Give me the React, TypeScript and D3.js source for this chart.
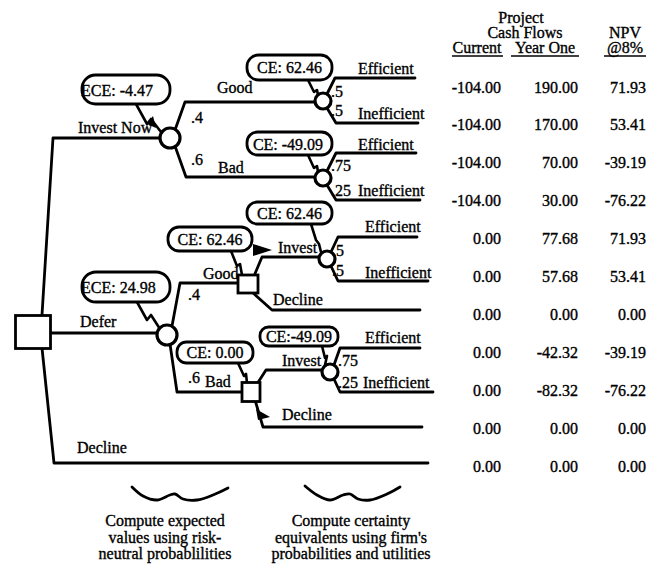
import React from "react";
import * as d3 from "d3";

// ---------- data ----------
const currentCF = [-104, -104, -104, -104, 0, 0, 0, 0, 0, 0, 0];
const yearOneCF = [190, 170, 70, 30, 77.68, 57.68, 0, -42.32, -82.32, 0, 0];
const npvValues = [71.93, 53.41, -39.19, -76.22, 71.93, 53.41, 0, -39.19, -76.22, 0, 0];
const ceValues = ["ECE: -4.47", "CE: 62.46", "CE: -49.09", "ECE: 24.98", "CE: 62.46", "CE: 62.46", "CE: 0.00", "CE:-49.09"];
const actionLabels = ["Invest Now", "Defer", "Decline", "Invest", "Decline", "Invest", "Decline"];
const stateLabels = ["Good", "Bad", "Good", "Bad"];
const stateProbs = [".4", ".6", ".4", ".6"];
const outcomeLabels = ["Efficient", "Inefficient"];
const outcomeProbs = [[".5", ".5"], [".75", ".25"], [".5", ".5"], [".75", ".25"]];
const notesLeft = ["Compute expected", "values using risk-", "neutral probablilities"];
const notesRight = ["Compute certainty", "equivalents using firm's", "probabilities and utilities"];

const FONT = '"Liberation Serif", "Times New Roman", Tinos, Times, "DejaVu Serif", serif';
const W = 665, H = 565;
const SW = 2.8;

const fmt = d3.formatLocale({ decimal: ".", thousands: ",", grouping: [3], currency: ["$", ""], minus: "-" }).format(".2f");
const rowY = d3.scaleLinear().domain([0, 10]).range([87, 466]);
const line = d3.line();
const smooth = d3.line().curve(d3.curveCatmullRom);

type P = [number, number];

// ---------- layout ----------
const branches: P[][] = [
  [[42, 315], [53, 138], [162, 138]],
  [[51, 333], [158, 333]],
  [[42, 348], [54, 463], [428, 463]],
  [[175, 130], [185, 102], [316, 102]],
  [[175, 146], [186, 177], [316, 177]],
  [[327, 94], [335, 78], [415, 78]],
  [[327, 108], [336, 123], [418, 123]],
  [[327, 171], [336, 153], [416, 153]],
  [[327, 185], [336, 200], [420, 200]],
  [[172, 326], [180, 283], [240, 283]],
  [[170, 344], [177, 392], [243, 392]],
  [[254, 276], [262, 257], [320, 257]],
  [[252, 292], [272, 310], [420, 310]],
  [[331, 252], [338, 237], [417, 237]],
  [[331, 266], [338, 281], [428, 281]],
  [[257, 384], [266, 370], [324, 370]],
  [[255, 400], [263, 427], [422, 427]],
  [[334, 365], [340, 348], [420, 348]],
  [[334, 379], [340, 392], [433, 392]],
];

const chanceNodes = [
  { x: 170, y: 138, r: 10 },
  { x: 167, y: 335, r: 10 },
  { x: 323, y: 101, r: 8 },
  { x: 323, y: 178, r: 8 },
  { x: 327, y: 259, r: 8 },
  { x: 330, y: 372, r: 8 },
];
const decisionNodes = [
  { x: 33, y: 332, w: 35, h: 33 },
  { x: 248, y: 284, w: 20, h: 18 },
  { x: 251, y: 392, w: 18, h: 19 },
];

const ceBoxes = [
  { x: 82, y: 75, w: 88, h: 29, tx: 81, ty: 96, anchor: "start" },
  { x: 247, y: 55, w: 85, h: 25, tx: 289.5, ty: 73, anchor: "middle" },
  { x: 247, y: 132, w: 85, h: 23, tx: 288, ty: 150, anchor: "middle" },
  { x: 82, y: 272, w: 88, h: 30, tx: 81, ty: 293, anchor: "start" },
  { x: 168, y: 227, w: 84, h: 24, tx: 210, ty: 245, anchor: "middle" },
  { x: 247, y: 202, w: 85, h: 22, tx: 289.5, ty: 219, anchor: "middle" },
  { x: 177, y: 342, w: 76, h: 21, tx: 215, ty: 358, anchor: "middle" },
  { x: 260, y: 327, w: 78, h: 19, tx: 299, ty: 342, anchor: "middle" },
];

const connectors: P[][] = [
  [[136, 104], [147, 124], [151, 119], [161, 132]],
  [[308, 80], [314, 92], [317, 90], [318, 95]],
  [[308, 155], [314, 168], [317, 166], [318, 172]],
  [[137, 302], [147, 320], [151, 315], [160, 329]],
  [[231, 251], [237, 266], [240, 264], [242, 275]],
  [[311, 224], [316, 240], [319, 244], [321, 252]],
  [[238, 363], [244, 376], [246, 374], [247, 383]],
  [[322, 346], [325, 358], [327, 356], [325, 365]],
];
const arrows: P[][] = [
  [[253, 244], [272, 250], [253, 256]],
  [[256, 409], [270, 417], [258, 420]],
  [[147, 124], [153, 116], [156, 128]],
];

const actionPos = [
  { x: 78, y: 133 }, { x: 80, y: 327 }, { x: 77, y: 453 },
  { x: 278, y: 253 }, { x: 273, y: 305 }, { x: 282, y: 366 }, { x: 282, y: 420 },
];
const statePos = [{ x: 217, y: 93 }, { x: 218, y: 173 }, { x: 203, y: 279 }, { x: 205, y: 387 }];
const stateProbPos = [{ x: 191, y: 123 }, { x: 191, y: 165 }, { x: 188, y: 300 }, { x: 188, y: 383 }];
const outcomeGroups = [
  { px: [331, 331], py: [97, 116], lx: [358, 358], ly: [74, 119] },
  { px: [331, 331], py: [171, 196], lx: [358, 358], ly: [150, 196] },
  { px: [332, 332], py: [256, 276], lx: [365, 365], ly: [232, 278] },
  { px: [338, 338], py: [366, 388], lx: [365, 363], ly: [343, 388] },
];

const wave1: P[] = [[132, 487], [143, 496], [157, 500], [170, 495], [175, 494], [183, 499], [197, 500], [213, 495], [228, 488]];
const wave2: P[] = [[305, 486], [317, 495], [330, 500], [343, 495], [350, 494], [358, 499], [370, 500], [387, 494], [400, 487]];

const cols = [501, 578, 646];

export default function App() {
  const T = (x: number, y: number, s: string, anchor = "start", key?: any) => (
    <text key={key} x={x} y={y} textAnchor={anchor as any}
      style={{ fontFamily: FONT, fontSize: 16 }} fill="#000" stroke="#000" strokeWidth={0.35}>{s}</text>
  );
  return (
    <div style={{ position: "absolute", left: 0, top: 0 }}>
      <svg width={W} height={H} viewBox={`0 0 ${W} ${H}`} style={{ display: "block", background: "#fff" }}>
        <rect width={W} height={H} fill="#fff" />
        <g fill="none" stroke="#000" strokeWidth={SW} strokeLinejoin="round" strokeLinecap="round">
          {branches.map((b, i) => <path key={i} d={line(b) || ""} />)}
          {connectors.map((c, i) => <path key={"c" + i} d={line(c) || ""} strokeWidth={2.6} />)}
        </g>
        {arrows.map((a, i) => <path key={"a" + i} d={(line(a) || "") + "Z"} fill="#000" />)}
        {chanceNodes.map((n, i) => (
          <circle key={i} cx={n.x} cy={n.y} r={n.r} fill="#fff" stroke="#000" strokeWidth={3.2} />
        ))}
        {decisionNodes.map((n, i) => (
          <rect key={i} x={n.x - n.w / 2} y={n.y - n.h / 2} width={n.w} height={n.h} fill="#fff" stroke="#000" strokeWidth={2.8} />
        ))}
        {ceBoxes.map((b, i) => (
          <g key={i}>
            <rect x={b.x} y={b.y} width={b.w} height={b.h} rx={b.h / 2 - 1} fill="#fff" stroke="#000" strokeWidth={2.8} />
            {T(b.tx, b.ty, ceValues[i], b.anchor)}
          </g>
        ))}
        {actionLabels.map((s, i) => T(actionPos[i].x, actionPos[i].y, s, "start", "act" + i))}
        {stateLabels.map((s, i) => T(statePos[i].x, statePos[i].y, s, "start", "st" + i))}
        {stateProbs.map((s, i) => T(stateProbPos[i].x, stateProbPos[i].y, s, "start", "sp" + i))}
        {outcomeGroups.map((g, gi) => (
          <g key={"og" + gi}>
            {outcomeProbs[gi].map((p, j) => T(g.px[j], g.py[j], p, "start", "op" + j))}
            {outcomeLabels.map((s, j) => T(g.lx[j], g.ly[j], s, "start", "ol" + j))}
          </g>
        ))}
        {T(521, 23, "Project", "middle")}
        {T(525, 38, "Cash Flows", "middle")}
        {T(625, 38, "NPV", "middle")}
        {T(477, 53, "Current", "middle")}
        {T(545, 53, "Year One", "middle")}
        {T(625, 53, "@8%", "middle")}
        <g stroke="#000" strokeWidth={1.3}>
          <line x1={452} x2={503} y1={56} y2={56} />
          <line x1={511} x2={579} y1={56} y2={56} />
          <line x1={604} x2={646} y1={56} y2={56} />
        </g>
        {currentCF.map((_, i) => (
          <g key={"row" + i}>
            {T(cols[0], rowY(i) + 5.5, fmt(currentCF[i]), "end")}
            {T(cols[1], rowY(i) + 5.5, fmt(yearOneCF[i]), "end")}
            {T(cols[2], rowY(i) + 5.5, fmt(npvValues[i]), "end")}
          </g>
        ))}
        <g fill="none" stroke="#000" strokeWidth={2.8} strokeLinecap="round">
          <path d={smooth(wave1) || ""} />
          <path d={smooth(wave2) || ""} />
        </g>
        {notesLeft.map((s, i) => T(165, 526 + i * 16.5, s, "middle", "nl" + i))}
        {notesRight.map((s, i) => T(351, 526 + i * 16.5, s, "middle", "nr" + i))}
      </svg>
    </div>
  );
}
